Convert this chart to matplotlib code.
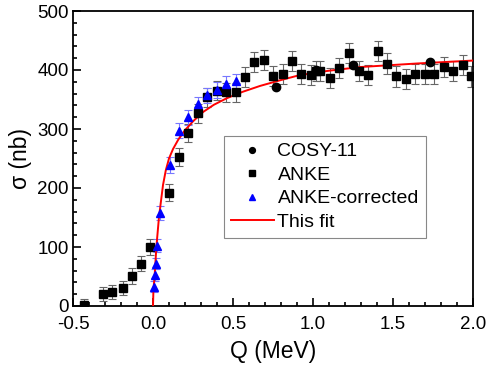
import numpy as np
import matplotlib
matplotlib.use('Agg')
import matplotlib.pyplot as plt
from matplotlib.ticker import MultipleLocator, FormatStrFormatter

plt.rcParams['font.family'] = ['Liberation Sans', 'DejaVu Sans']

# COSY-11
cosy_q = [0.769, 1.02, 1.25, 1.73]
cosy_s = [371, 400, 409, 413]

# ANKE
anke_q = [-0.431, -0.31, -0.254, -0.19, -0.133, -0.075, -0.017, 0.102, 0.163, 0.22,
          0.279, 0.34, 0.398, 0.456, 0.517, 0.575, 0.633, 0.692, 0.752, 0.81,
          0.869, 0.927, 0.988, 1.017, 1.046, 1.106, 1.165, 1.225, 1.286, 1.346,
          1.404, 1.462, 1.52, 1.58, 1.64, 1.70, 1.758, 1.82, 1.877, 1.935, 1.99]
anke_s = [2, 21, 24, 30, 51, 72, 100, 192, 252, 293,
          327, 354, 365, 362, 362, 388, 413, 417, 390, 393,
          415, 394, 391, 398, 399, 386, 404, 429, 399, 391,
          433, 411, 389, 384, 394, 393, 393, 405, 398, 408, 389]
anke_err = [10, 12, 12, 12, 13, 13, 14, 14, 15, 15,
            16, 16, 16, 16, 16, 17, 17, 17, 17, 17,
            17, 17, 17, 17, 17, 17, 17, 17, 17, 17,
            17, 17, 17, 17, 17, 17, 17, 17, 17, 17, 17]

# ANKE-corrected
corr_q = [0.006, 0.014, 0.019, 0.027, 0.044, 0.104, 0.16, 0.22, 0.279, 0.34, 0.398, 0.456, 0.517]
corr_s = [33, 52, 72, 102, 158, 239, 297, 320, 342, 357, 366, 376, 381]
corr_err = [10, 10, 10, 11, 12, 13, 13, 13, 13, 13, 13, 13, 13]

# fit curve
fit_q = [0.0, 0.0025, 0.005, 0.01, 0.021, 0.0375, 0.0625, 0.08, 0.1, 0.125, 0.158,
         0.2, 0.25, 0.314, 0.38, 0.46, 0.56, 0.669, 0.8, 0.898, 1.0, 1.106, 1.294, 1.648, 2.0]
fit_s = [0, 25, 35, 50, 100, 151, 205, 230, 250, 266, 282,
         298, 313, 329, 341, 352, 363, 373, 383, 390, 395, 399, 405, 411, 416]

fig = plt.figure(figsize=(4.91, 3.68), dpi=100)
ax = fig.add_axes([73/491, 62/368, 400/491, 295/368])

ax.errorbar(anke_q, anke_s, yerr=anke_err, fmt='none', ecolor='#666666',
            elinewidth=0.8, capsize=3, capthick=0.8, zorder=2)
ax.errorbar(corr_q, corr_s, yerr=corr_err, fmt='none', ecolor='#7777ff',
            elinewidth=0.8, capsize=3, capthick=0.8, zorder=2)
ax.plot(fit_q, fit_s, '-', color='red', lw=1.4, label='This fit', zorder=3)
ax.plot(anke_q, anke_s, 's', color='black', ms=5.5, label='ANKE', zorder=4)
ax.plot(corr_q, corr_s, '^', color='blue', ms=6, label='ANKE-corrected', zorder=5)
ax.plot(cosy_q, cosy_s, 'o', color='black', ms=6, label='COSY-11', zorder=6)

ax.set_xlim(-0.5, 2.0)
ax.set_ylim(0, 500)
ax.xaxis.set_major_locator(MultipleLocator(0.5))
ax.xaxis.set_minor_locator(MultipleLocator(0.1))
ax.xaxis.set_major_formatter(FormatStrFormatter('%.1f'))
ax.yaxis.set_major_locator(MultipleLocator(100))
ax.yaxis.set_minor_locator(MultipleLocator(20))
ax.tick_params(which='both', direction='in', labelsize=13.5, width=1.2)
ax.tick_params(which='major', length=6)
ax.tick_params(axis='x', which='major', pad=7)
ax.tick_params(axis='y', which='major', pad=3)
ax.tick_params(which='minor', length=3)
for s in ax.spines.values():
    s.set_linewidth(1.3)

ax.set_xlabel('Q (MeV)', fontsize=16.5, labelpad=5)
ax.set_ylabel('σ (nb)', fontsize=16.5, labelpad=4)

h, l = ax.get_legend_handles_labels()
order = [3, 1, 2, 0]
leg = ax.legend([h[i] for i in order], [l[i] for i in order], loc='upper left',
                bbox_to_anchor=(0.3775, 0.576), borderaxespad=0, fontsize=14,
                frameon=True, fancybox=False, edgecolor='#888888', framealpha=1,
                markerscale=0.7, handlelength=2.2, handletextpad=0.2,
                labelspacing=0.3, borderpad=0.35)
leg.get_frame().set_linewidth(0.8)

fig.savefig('out.png', dpi=100)
